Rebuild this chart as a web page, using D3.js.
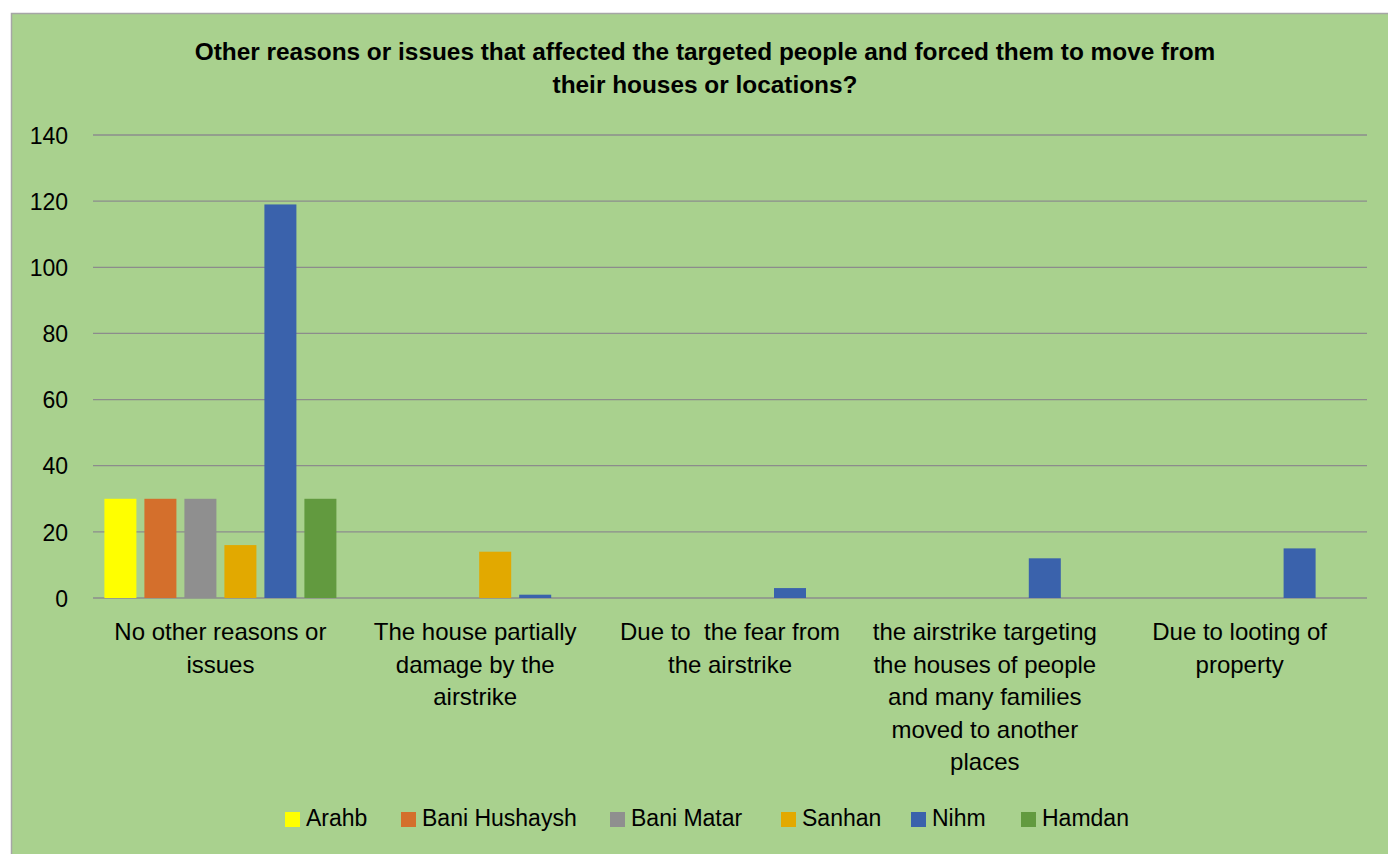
<!DOCTYPE html>
<html><head><meta charset="utf-8">
<script src="https://cdn.jsdelivr.net/npm/d3@7"></script>
<style>body{margin:0;background:#fff;} text{font-family:"Liberation Sans",Arial,sans-serif;} .cat{white-space:pre;}</style>
</head><body><svg id="c" width="1388" height="854"></svg>
<script>
const categories = [
  "No other reasons or\nissues",
  "The house partially\ndamage by the\nairstrike",
  "Due to  the fear from\nthe airstrike",
  "the airstrike targeting\nthe houses of people\nand many families\nmoved to another\nplaces",
  "Due to looting of\nproperty"
];
const seriesNames = ["Arahb","Bani Hushaysh","Bani Matar","Sanhan","Nihm","Hamdan"];
const seriesColors = ["#FFFF00","#D46F2C","#8F8F8F","#E2A900","#3A62AC","#629A3F"];
const arahb = [30,0,0,0,0];
const baniHushaysh = [30,0,0,0,0];
const baniMatar = [30,0,0,0,0];
const sanhan = [16,14,0,0,0];
const nihm = [119,1,3,12,15];
const hamdan = [30,0,0,0,0];
const yTicks = [0,20,40,60,80,100,120,140];
const titleLines = ["Other reasons or issues that affected the targeted people and forced them to move from","their houses or locations?"];

const series = [arahb,baniHushaysh,baniMatar,sanhan,nihm,hamdan];
const svg = d3.select("#c");
svg.append("rect").attr("x",11.5).attr("y",13.5).attr("width",1388).attr("height",860)
  .attr("fill","#A9D18E").attr("stroke","#A6A6A6").attr("stroke-width",1.5);

const x0 = d3.scaleBand().domain(d3.range(categories.length)).range([93,1367]);
const x1 = d3.scaleBand().domain(d3.range(seriesNames.length)).range([7.4,x0.bandwidth()-7.4]).paddingInner(0.2).paddingOuter(0.1);
const y = d3.scaleLinear().domain([0,140]).range([598,135]);

// gridlines
svg.append("g").selectAll("line").data(yTicks).join("line")
  .attr("x1",93).attr("x2",1367).attr("y1",d=>y(d)).attr("y2",d=>y(d))
  .attr("stroke","#8C8C8C").attr("stroke-width",1.3);

// y axis labels
const yAxis = d3.axisLeft(y).tickValues(yTicks).tickSize(0).tickPadding(0);
const yg = svg.append("g").attr("transform","translate(68,0)").call(yAxis);
yg.select(".domain").remove();
yg.selectAll("text").attr("font-size",23).attr("fill","#000").attr("font-family","Liberation Sans, Arial, sans-serif").attr("dy","0.36em");

// bars
const groups = svg.append("g").selectAll("g").data(categories).join("g")
  .attr("transform",(d,i)=>`translate(${x0(i)},0)`);
groups.selectAll("rect").data((d,i)=>series.map((s,k)=>({k,v:s[i]})).filter(o=>o.v>0)).join("rect")
  .attr("x",o=>x1(o.k)).attr("width",x1.bandwidth())
  .attr("y",o=>y(o.v)).attr("height",o=>y(0)-y(o.v))
  .attr("fill",o=>seriesColors[o.k]);

// x axis labels
const xAxis = d3.axisBottom(x0).tickSize(0).tickFormat(()=>"");
const xg = svg.append("g").attr("transform","translate(0,598)").call(xAxis);
xg.select(".domain").remove();
xg.selectAll(".tick").each(function(d){
  const lines = categories[d].split("\n");
  const t = d3.select(this).append("text").attr("class","cat").attr("text-anchor","middle").attr("font-size",24).attr("fill","#000");
  lines.forEach((l,j)=>t.append("tspan").attr("x",0).attr("y",42+j*32.6).text(l));
});

// title
const tt = svg.append("text").attr("text-anchor","middle").attr("font-size",24.4).attr("font-weight","bold").attr("fill","#000");
titleLines.forEach((l,j)=>tt.append("tspan").attr("x",705).attr("y",60+j*33).text(l));

// legend
const legendX = [285,401,610,781,911,1021];
const lg = svg.append("g").selectAll("g").data(seriesNames).join("g")
  .attr("transform",(d,i)=>`translate(${legendX[i]},812)`);
lg.append("rect").attr("width",15).attr("height",15).attr("fill",(d,i)=>seriesColors[i]);
lg.append("text").attr("x",21).attr("y",14).attr("font-size",23).attr("fill","#000").text(d=>d);
</script></body></html>
